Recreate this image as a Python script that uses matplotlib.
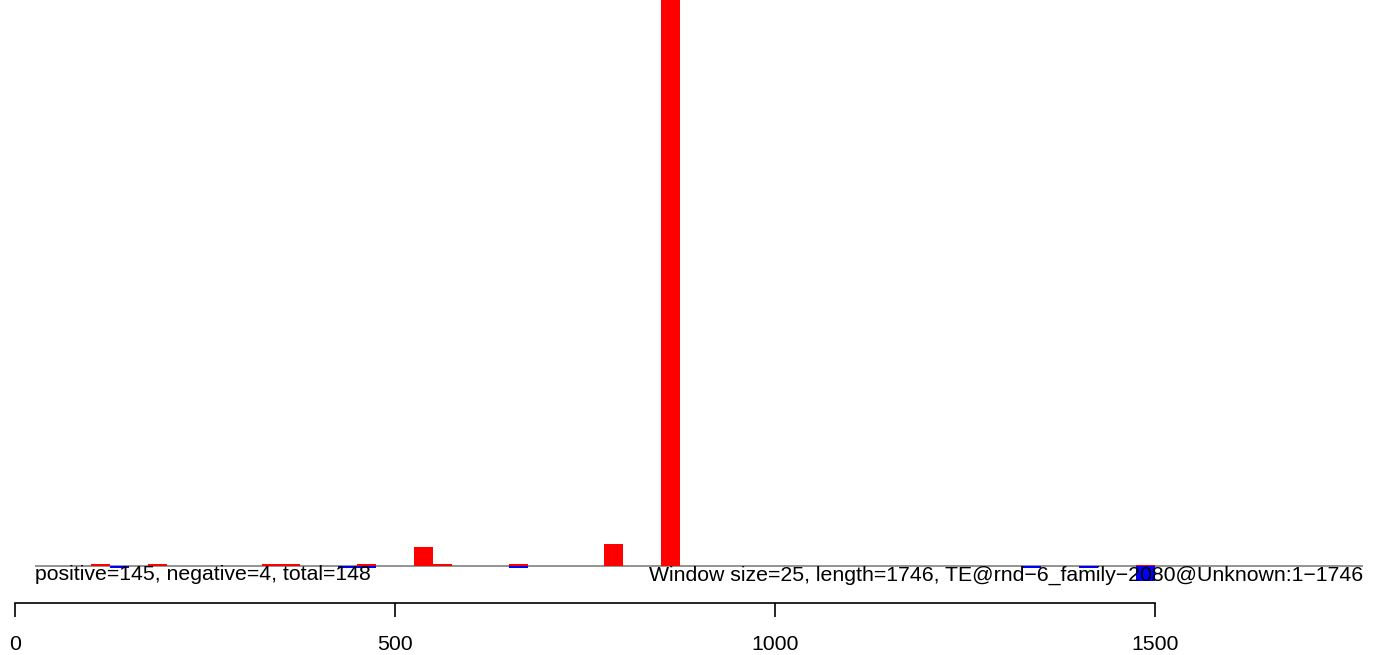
import matplotlib
matplotlib.use("Agg")
import matplotlib.pyplot as plt

plt.rcParams['font.family'] = ['Liberation Sans', 'DejaVu Sans']

# window starts (window size 25) and signal per window
window = 25
seq_length = 1746
pos_starts = [100, 175, 325, 350, 450, 525, 550, 650, 775, 850, 1475]
pos_values = [2, 2, 2, 2, 2.5, 19, 2.5, 2.5, 22, 700, 1.5]
neg_starts = [125, 425, 450, 650, 1325, 1400, 1475]
neg_values = [1.5, 1.5, 1.5, 1.5, 1.5, 1.5, 15]

left_label = "positive=145, negative=4, total=148"
right_label = ("Window size=25, length=1746, "
               "TE@rnd\u22126_family\u22122080@Unknown:1\u22121746")
xticks = [0, 500, 1000, 1500]

W, H = 1380, 655
fig = plt.figure(figsize=(W / 100, H / 100), dpi=100)

# pixel mapping: x=0 -> 15px, x=500 -> 395px
sx = 0.76
x0 = -15 / sx
x1 = (W - 15) / sx

ax = fig.add_axes([0, 0, 1, 1])
ax.set_xlim(x0, x1)
ax.set_ylim(-(H - 566), 566)
ax.axis('off')

ax.hlines(0, (35 - 15) / sx, (1363 - 15) / sx, color='#808080', lw=1.2, zorder=1)
ax.bar(pos_starts, pos_values, width=window, align='edge', color='#ff0000',
       linewidth=0, zorder=2)
ax.bar(neg_starts, [-v for v in neg_values], width=window, align='edge',
       color='#0000ff', linewidth=0, zorder=2)

ax.text((35 - 15) / sx, -9, left_label, ha='left', va='center', fontsize=15.3,
        color='black', zorder=3)
ax.text((1363 - 15) / sx, -9, right_label, ha='right', va='center', fontsize=15.3,
        color='black', zorder=3)

# bottom axis
ax2 = fig.add_axes([0, (H - 603) / H, 1, 0.001])
ax2.set_xlim(x0, x1)
ax2.patch.set_alpha(0)
for s in ['top', 'left', 'right']:
    ax2.spines[s].set_visible(False)
ax2.spines['bottom'].set_bounds(0, 1500)
ax2.spines['bottom'].set_linewidth(1.2)
ax2.set_yticks([])
ax2.set_xticks(xticks)
ax2.set_xticklabels([str(t) for t in xticks])
ax2.tick_params(axis='x', length=10, width=1.2, labelsize=15.3, pad=13)

fig.savefig("out.png", dpi=100)
